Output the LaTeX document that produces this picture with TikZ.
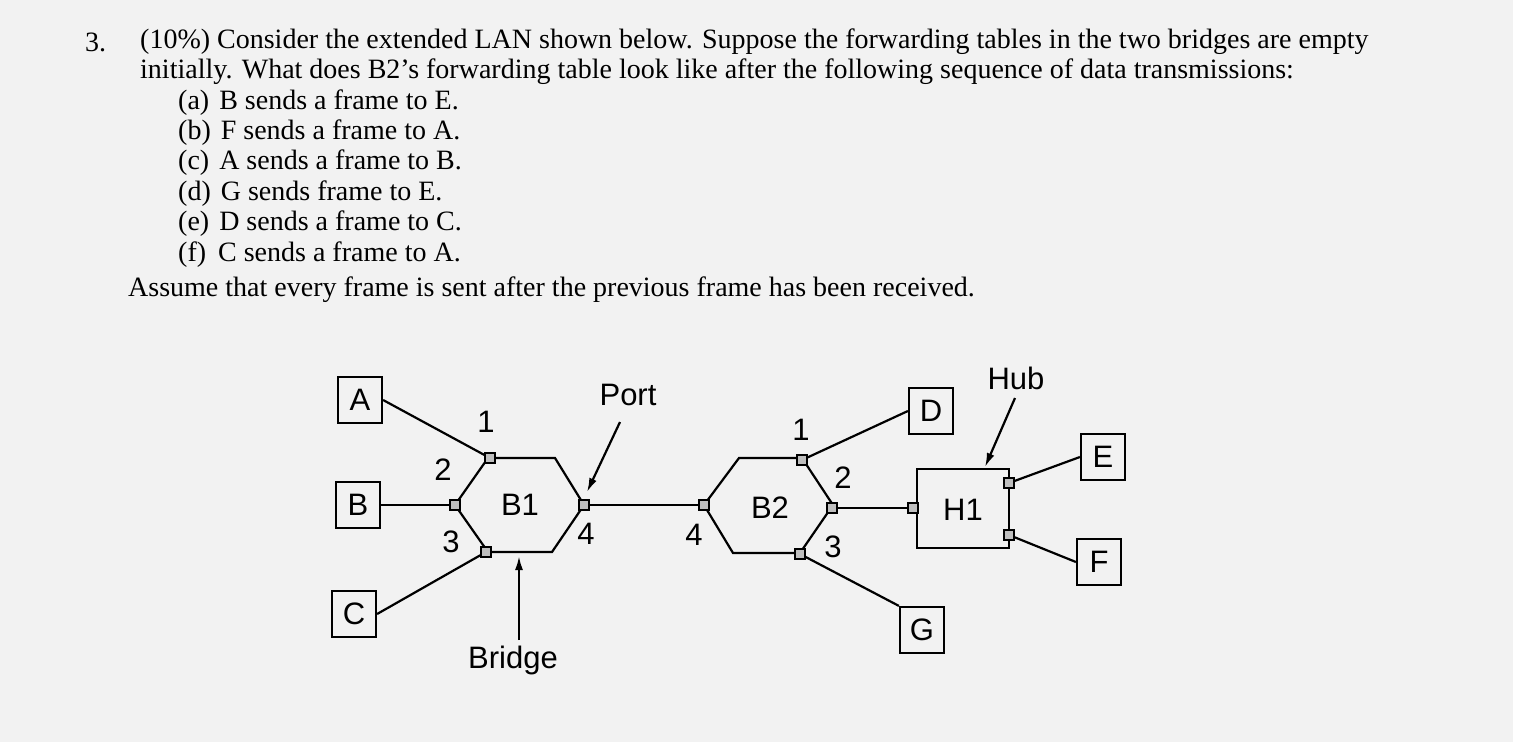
\documentclass[tikz,border=0pt]{standalone}
\usepackage{fontspec}
\usetikzlibrary{arrows.meta}
\setmainfont{Liberation Serif}
\newfontfamily\diag{Liberation Sans}
\begin{document}
\begin{tikzpicture}[x=1pt,y=-1pt,
  q/.style={anchor=west,inner sep=0pt,font=\fontsize{28}{32}\selectfont},
  host/.style={draw,line width=2.2pt,minimum width=44pt,minimum height=46pt,inner sep=0pt,font=\diag\fontsize{31}{33}\selectfont},
  lbl/.style={inner sep=0pt,font=\diag\fontsize{31}{33}\selectfont},
  pt/.style={draw,fill=gray!50,minimum size=10pt,inner sep=0pt,line width=1.3pt},
  ln/.style={line width=2.2pt},
  arr/.style={line width=2.2pt,-{Latex[length=14pt,width=8pt]}}]
\fill[gray!10] (0,0) rectangle (1513,742);
\useasboundingbox (0,0) rectangle (1513,742);
% question text
\node[q] (n3) at (85,42) {3.};
\node[q] (l1) at (140,42) {(10\%) Consider the extended LAN shown below. Suppose the forwarding tables in the two bridges are empty};
\node[q] (l2) at (140,72) {initially. What does B2's forwarding table look like after the following sequence of data transmissions:};
\node[q] (ia) at (178,103) {(a)\hspace{10pt}B sends a frame to E.};
\node[q] (ib) at (178,133) {(b)\hspace{10pt}F sends a frame to A.};
\node[q] (ic) at (178,163) {(c)\hspace{10pt}A sends a frame to B.};
\node[q] (id) at (178,194) {(d)\hspace{10pt}G sends frame to E.};
\node[q] (ie) at (178,224) {(e)\hspace{10pt}D sends a frame to C.};
\node[q] (iff) at (178,255) {(f)\hspace{12pt}C sends a frame to A.};
\node[q] (as) at (128,290) {Assume that every frame is sent after the previous frame has been received.};
% hosts
\node[host] (A) at (360,400) {A};
\node[host] (B) at (358,505) {B};
\node[host] (C) at (354,614) {C};
\node[host] (D) at (931,411) {D};
\node[host] (E) at (1103,457) {E};
\node[host] (F) at (1099,562) {F};
\node[host] (G) at (922,630) {G};
% bridges
\draw[ln] (488,458) -- (555,458) -- (584,505) -- (552,552) -- (488,552) -- (455,505) -- cycle;
\draw[ln] (739,458) -- (802,458) -- (833,505) -- (800,553) -- (733,553) -- (704,505) -- cycle;
\draw[ln] (917,469) rectangle (1009,548);
\node[lbl] (B1) at (520,505) {B1};
\node[lbl] (B2) at (770,508) {B2};
\node[lbl] (H1) at (963,510) {H1};
% ports
\node[pt] (p11) at (490,458) {};
\node[pt] (p12) at (455,505) {};
\node[pt] (p13) at (486,552) {};
\node[pt] (p14) at (584,505) {};
\node[pt] (p21) at (802,460) {};
\node[pt] (p22) at (832,508) {};
\node[pt] (p23) at (800,554) {};
\node[pt] (p24) at (704,505) {};
\node[pt] (h0) at (913,508) {};
\node[pt] (hE) at (1009,483) {};
\node[pt] (hF) at (1009,535) {};
% links
\draw[ln] (A.east) -- (p11);
\draw[ln] (B.east) -- (p12);
\draw[ln] (C.east) -- (p13);
\draw[ln] (p14) -- (p24);
\draw[ln] (p21) -- (D.west);
\draw[ln] (p22) -- (h0);
\draw[ln] (p23) -- (G.north west);
\draw[ln] (hE) -- (E.west);
\draw[ln] (hF) -- (F.west);
% port numbers
\node[lbl] (t11) at (486,422) {1};
\node[lbl] (t12) at (443,470) {2};
\node[lbl] (t13) at (451,542) {3};
\node[lbl] (t14) at (586,534) {4};
\node[lbl] (t21) at (801,430) {1};
\node[lbl] (t22) at (843,478) {2};
\node[lbl] (t23) at (833,547) {3};
\node[lbl] (t24) at (694,535) {4};
% callouts
\node[lbl] (port) at (628,395) {Port};
\node[lbl] (hub) at (1016,378) {Hub};
\node[lbl] (bridge) at (513,660) {Bridge};
\coordinate (pa) at (620,422);
\coordinate (pb) at (587,492);
\coordinate (ha) at (1015,398);
\coordinate (hb) at (985,467);
\coordinate (ba) at (519,640);
\coordinate (bb) at (519,556);
\draw[arr] (pa) -- (pb);
\draw[arr] (ha) -- (hb);
\draw[arr] (ba) -- (bb);
\end{tikzpicture}
\end{document}
